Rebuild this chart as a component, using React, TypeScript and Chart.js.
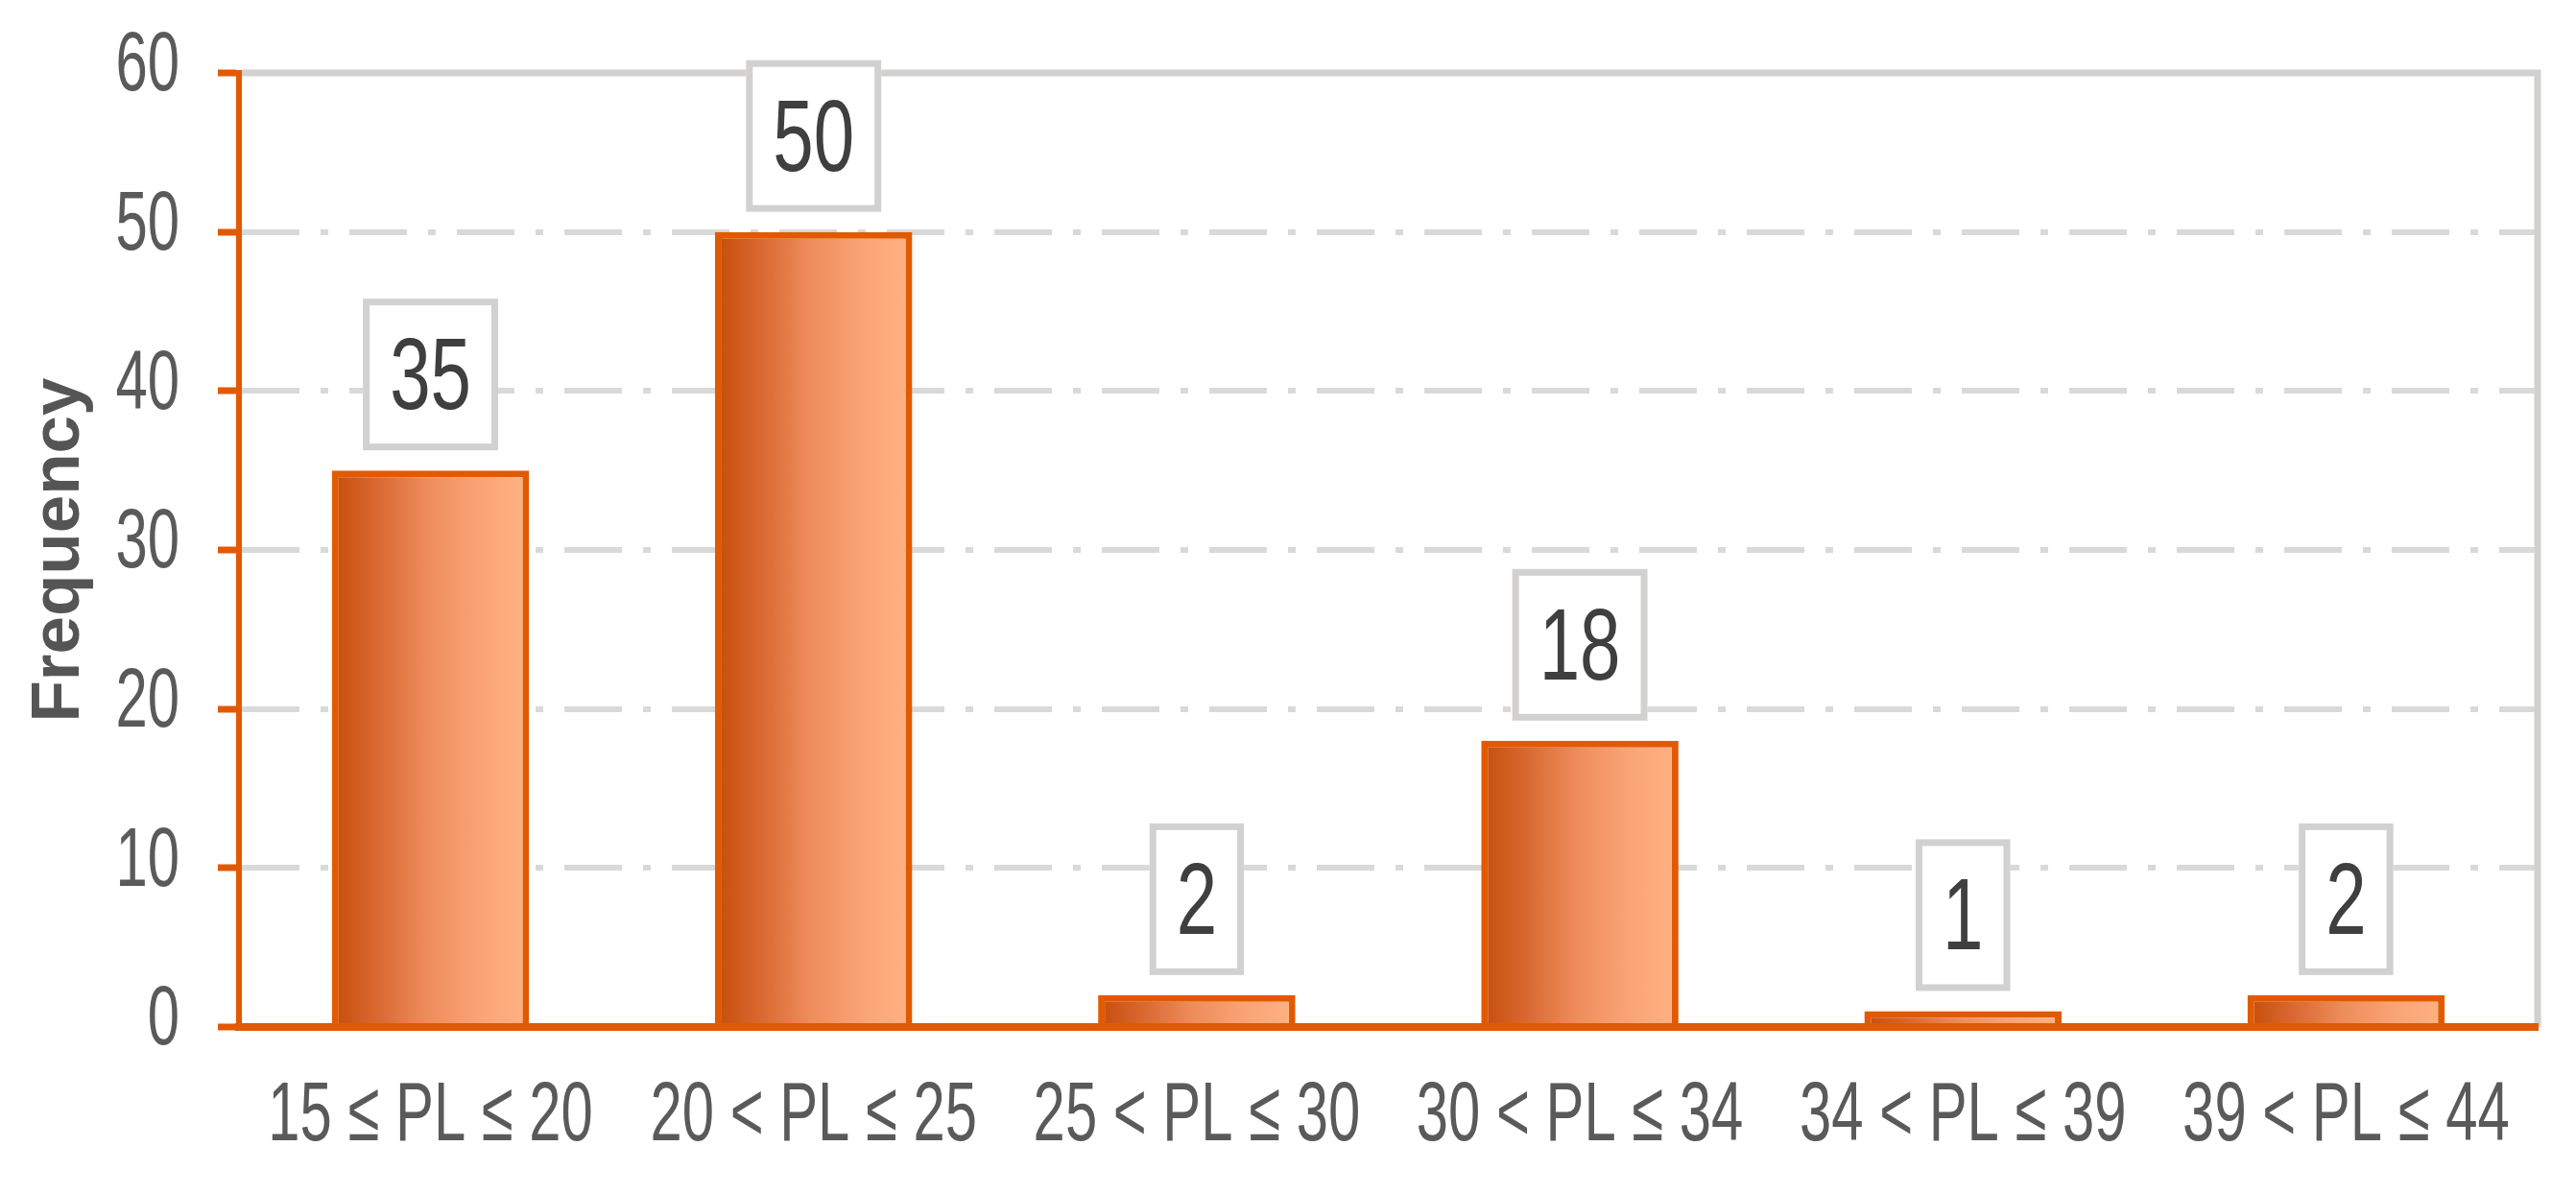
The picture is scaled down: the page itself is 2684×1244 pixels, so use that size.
import React, { useEffect, useRef } from 'react';
import { Chart, registerables } from 'chart.js';

Chart.register(...registerables);

// ---- data ----
const categories = [
  '15 ≤ PL ≤ 20',
  '20 < PL ≤ 25',
  '25 < PL ≤ 30',
  '30 < PL ≤ 34',
  '34 < PL ≤ 39',
  '39 < PL ≤ 44',
];
const frequencies = [35, 50, 2, 18, 1, 2];
const yMin = 0;
const yMax = 60;
const yStep = 10;
const yTitle = 'Frequency';

// ---- style ----
const W = 2684;
const H = 1244;
const ORANGE = '#E15A02';
const GRID = '#D9D9D9';
const FRAME = '#D2D1CF';
const TICK_TEXT = '#5A5A5A';
const SANS = "'Liberation Sans', Arial, sans-serif";
const TICK_SIZE = 88;
const TICK_SX = 0.68;
const BAR_PCT = 0.515;

const gradientFill = (c: any) => {
  const chart = c.chart;
  const area = chart.chartArea;
  if (!area || c.dataIndex === undefined || !chart.scales.x) return '#EE8A55';
  const xs = chart.scales.x;
  const cx = xs.getPixelForValue(c.dataIndex);
  const w = (xs.width / categories.length) * BAR_PCT;
  const g = chart.ctx.createLinearGradient(cx - w / 2, 0, cx + w / 2, 0);
  g.addColorStop(0, '#C64D0A');
  g.addColorStop(0.22, '#D8672F');
  g.addColorStop(0.48, '#EE8C5B');
  g.addColorStop(0.75, '#FAA476');
  g.addColorStop(1, '#FFB283');
  return g;
};

// condensed rendering of the axis tick labels (the reference uses a narrow face)
const squeezePlugin = {
  id: 'squeezeTicks',
  beforeDraw(chart: any) {
    const ctx: any = chart.ctx;
    if (ctx.__squeezed) return;
    ctx.__squeezed = true;
    const orig = ctx.fillText.bind(ctx);
    const re = new RegExp('\\b' + TICK_SIZE + 'px');
    ctx.fillText = (text: string, x: number, y: number, maxWidth?: number) => {
      if (re.test(ctx.font)) {
        ctx.save();
        ctx.translate(x, y);
        ctx.scale(TICK_SX, 1);
        orig(text, 0, 0);
        ctx.restore();
      } else if (maxWidth === undefined) {
        orig(text, x, y);
      } else {
        orig(text, x, y, maxWidth);
      }
    };
  },
};

const framePlugin = {
  id: 'frame',
  beforeDatasetsDraw(chart: any) {
    const { ctx, chartArea: a } = chart;
    ctx.save();
    ctx.strokeStyle = FRAME;
    ctx.lineWidth = 7;
    ctx.beginPath();
    ctx.moveTo(a.left + 3, a.top);
    ctx.lineTo(a.right + 3.5, a.top);
    ctx.moveTo(a.right, a.top);
    ctx.lineTo(a.right, a.bottom);
    ctx.stroke();
    ctx.restore();
  },
};

const LABEL_SX = 0.72;
const LABEL_SIZE = 106;

const labelPlugin = {
  id: 'boxLabels',
  afterDatasetsDraw(chart: any) {
    const { ctx } = chart;
    const meta = chart.getDatasetMeta(0);
    ctx.save();
    meta.data.forEach((bar: any, i: number) => {
      const { x, y } = bar.getProps(['x', 'y'], true);
      const text = String(frequencies[i]);
      ctx.font = `${LABEL_SIZE}px ${SANS}`;
      const tw = ctx.measureText(text).width * LABEL_SX;
      const bw = tw + 56;
      const bh = 158;
      const bottom = y - 21;
      const top = bottom - bh;
      const left = x - bw / 2;
      ctx.fillStyle = '#FFFFFF';
      ctx.fillRect(left, top, bw, bh);
      ctx.strokeStyle = FRAME;
      ctx.lineWidth = 7;
      ctx.strokeRect(left + 3.5, top + 3.5, bw - 7, bh - 7);
      ctx.save();
      ctx.translate(x, top + bh / 2 + (0.716 * LABEL_SIZE) / 2 - 2);
      ctx.scale(LABEL_SX, 1);
      ctx.fillStyle = '#3F3F3F';
      ctx.textAlign = 'center';
      ctx.textBaseline = 'alphabetic';
      ctx.fillText(text, 0, 0);
      ctx.restore();
    });
    ctx.restore();
  },
};

export default function App() {
  const ref = useRef<HTMLCanvasElement>(null);

  useEffect(() => {
    const canvas = ref.current;
    if (!canvas) return;
    const chart = new Chart(canvas, {
      type: 'bar',
      data: {
        labels: categories,
        datasets: [
          {
            data: frequencies,
            backgroundColor: gradientFill as any,
            borderColor: ORANGE,
            borderWidth: 7,
            borderSkipped: 'bottom',
            barPercentage: BAR_PCT,
            categoryPercentage: 1,
          },
        ],
      },
      options: {
        responsive: false,
        animation: false,
        devicePixelRatio: 1,
        layout: { padding: { left: 0, top: 76, right: 40, bottom: 0 } },
        plugins: {
          legend: { display: false },
          tooltip: { enabled: false },
        },
        scales: {
          x: {
            grid: { display: false, drawTicks: false, tickLength: 0 },
            border: { display: true, color: ORANGE, width: 8, z: 1 },
            ticks: {
              font: { family: SANS, size: TICK_SIZE },
              color: TICK_TEXT,
              padding: 41,
              maxRotation: 0,
              minRotation: 0,
              autoSkip: false,
            },
            afterFit: (s: any) => {
              s.height = H - 1070;
              s.paddingLeft = 0;
              s.paddingRight = 0;
            },
          },
          y: {
            min: yMin,
            max: yMax,
            ticks: {
              stepSize: yStep,
              font: { family: SANS, size: TICK_SIZE },
              color: TICK_TEXT,
              padding: 40,
              labelOffset: -6,
            },
            grid: {
              color: GRID,
              lineWidth: 6,
              drawTicks: true,
              tickLength: 22,
              tickColor: ORANGE,
              tickWidth: 7,
            },
            border: { display: true, color: ORANGE, width: 6, dash: [60, 22, 8, 22] },
            title: {
              display: true,
              text: yTitle,
              color: '#555555',
              font: { family: SANS, size: 71, weight: 'bold' },
              padding: { top: 20, bottom: 0 },
            },
            afterFit: (s: any) => {
              s.width = 249;
              s.paddingTop = 0;
              s.paddingBottom = 0;
            },
          },
        },
      },
      plugins: [squeezePlugin, framePlugin, labelPlugin],
    });
    return () => chart.destroy();
  }, []);

  return (
    <div style={{ position: 'fixed', left: 0, top: 0, width: W, height: H, background: '#FFFFFF' }}>
      <canvas ref={ref} width={W} height={H} style={{ display: 'block', width: W, height: H }} />
    </div>
  );
}
